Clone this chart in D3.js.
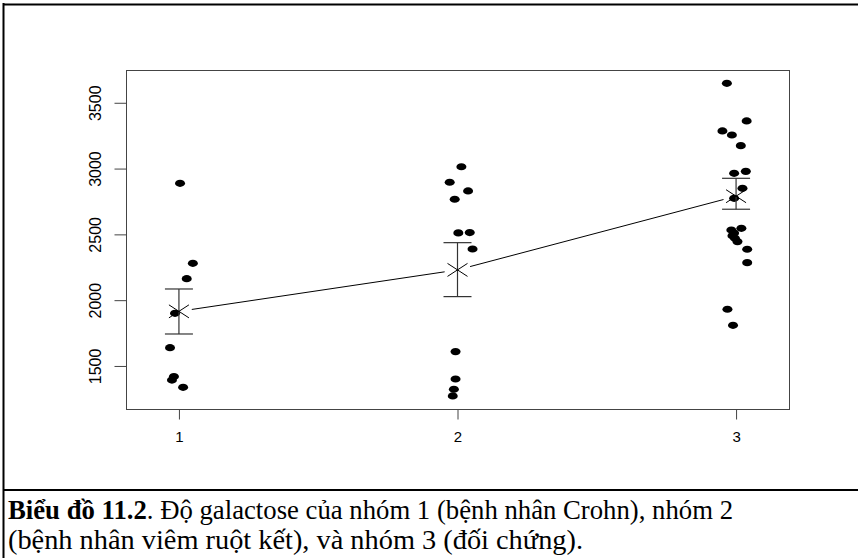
<!DOCTYPE html>
<html>
<head>
<meta charset="utf-8">
<script src="https://cdn.jsdelivr.net/npm/d3@7"></script>
<style>
  body { margin: 0; background: #fff; }
  svg { display: block; }
</style>
</head>
<body>
<div id="chart"></div>
<script>
// galactose values per group, with the horizontal jitter
var group1 = [2888, 2280, 2163, 1900, 1639, 1420, 1393, 1338];
var jitter1 = [0.004, 0.05, 0.028, -0.014, -0.032, -0.018, -0.025, 0.015];
var group2 = [3014, 2896, 2830, 2767, 2511, 2514, 2389, 1609, 1401, 1323, 1272];
var jitter2 = [0.014, -0.028, 0.038, -0.01, 0.003, 0.044, 0.054, -0.007, -0.007, -0.013, -0.017];
var group3 = [3648, 3362, 3286, 3255, 3174, 2964, 2979, 2850, 2774, 2546, 2533, 2510, 2490, 2470, 2445, 2387, 2285, 1931, 1809];
var jitter3 = [-0.033, 0.038, -0.049, -0.015, 0.017, -0.007, 0.035, 0.023, -0.007, 0.019, -0.017, -0.007, -0.013, -0.004, 0.005, 0.04, 0.04, -0.031, -0.011];

var groups = [1, 2, 3];
var means = [1915, 2230, 2790];
var lower = [1743, 2027, 2691];
var upper = [2085, 2437, 2926];

var yTicks = [1500, 2000, 2500, 3000, 3500];
var captionBold = "Biểu đồ 11.2";
var captionRest = ". Độ galactose của nhóm 1 (bệnh nhân Crohn), nhóm 2";
var captionLine2 = "(bệnh nhân viêm ruột kết), và nhóm 3 (đối chứng).";

var W = 858, H = 558;
var svg = d3.select("#chart").append("svg").attr("width", W).attr("height", H);

var x = d3.scaleLinear().domain([0.81, 3.19]).range([126, 789]);
var y = d3.scaleLinear().domain([1173, 3749]).range([409, 70]);

// outer frame of the figure
svg.append("line").attr("x1", 3.5).attr("x2", 3.5).attr("y1", 3).attr("y2", H)
	.attr("stroke", "#000").attr("stroke-width", 2);
svg.append("line").attr("x1", 3).attr("x2", W).attr("y1", 4.5).attr("y2", 4.5)
	.attr("stroke", "#000").attr("stroke-width", 2);
svg.append("line").attr("x1", 3).attr("x2", W).attr("y1", 490).attr("y2", 490)
	.attr("stroke", "#000").attr("stroke-width", 2);

// plot box
svg.append("rect")
	.attr("x", x.range()[0] + 0.5).attr("y", y.range()[1] + 0.5)
	.attr("width", x.range()[1] - x.range()[0]).attr("height", y.range()[0] - y.range()[1])
	.attr("fill", "none").attr("stroke", "#444").attr("stroke-width", 1);

// Left axis
var yAxis = svg.append("g")
	.attr("transform", "translate(" + (x.range()[0] + 0.5) + ",0)")
	.call(d3.axisLeft(y).tickValues(yTicks).tickSize(12).tickFormat(d3.format("d")));
yAxis.select(".domain").remove();
yAxis.selectAll(".tick line").attr("stroke", "#444");
yAxis.selectAll(".tick text")
	.attr("x", 0).attr("dy", null)
	.attr("transform", "translate(-26,0) rotate(-90)")
	.attr("text-anchor", "middle")
	.attr("font-family", "Liberation Sans, Arial, sans-serif")
	.attr("font-size", 16).attr("fill", "#000");

// Bottom axis
var xAxis = svg.append("g")
	.attr("transform", "translate(0," + (y.range()[0] + 0.5) + ")")
	.call(d3.axisBottom(x).tickValues(groups).tickSize(10).tickFormat(d3.format("d")));
xAxis.select(".domain").remove();
xAxis.selectAll(".tick line").attr("stroke", "#444");
xAxis.selectAll(".tick text")
	.attr("y", 22)
	.attr("font-family", "Liberation Sans, Arial, sans-serif")
	.attr("font-size", 15).attr("fill", "#000");

// jittered points
var pts = [];
[group1, group2, group3].forEach(function (vals, gi) {
	var jit = [jitter1, jitter2, jitter3][gi];
	vals.forEach(function (v, i) {
		pts.push({ g: groups[gi] + jit[i], v: v });
	});
});
svg.append("g").selectAll("ellipse")
	.data(pts)
	.enter().append("ellipse")
	.attr("cx", function (d) { return x(d.g); })
	.attr("cy", function (d) { return y(d.v); })
	.attr("rx", 5).attr("ry", 3.6)
	.attr("fill", "#000");

// error bars
var eb = svg.append("g").attr("stroke", "#333").attr("stroke-width", 1.2);
groups.forEach(function (g, i) {
	eb.append("line").attr("x1", x(g)).attr("x2", x(g)).attr("y1", y(lower[i])).attr("y2", y(upper[i]));
	eb.append("line").attr("x1", x(g) - 14).attr("x2", x(g) + 14).attr("y1", y(lower[i])).attr("y2", y(lower[i]));
	eb.append("line").attr("x1", x(g) - 14).attr("x2", x(g) + 14).attr("y1", y(upper[i])).attr("y2", y(upper[i]));
});

// mean markers (x) and connecting line with gaps
var mk = svg.append("g").attr("stroke", "#000").attr("stroke-width", 1);
groups.forEach(function (g, i) {
	var cx = x(g), cy = y(means[i]);
	mk.append("line").attr("x1", cx - 10).attr("y1", cy - 6.5).attr("x2", cx + 10).attr("y2", cy + 6.5);
	mk.append("line").attr("x1", cx - 10).attr("y1", cy + 6.5).attr("x2", cx + 10).attr("y2", cy - 6.5);
	if (i < groups.length - 1) {
		var x2 = x(groups[i + 1]), y2 = y(means[i + 1]);
		var dx = x2 - cx, dy = y2 - cy, len = Math.sqrt(dx * dx + dy * dy), gap = 13;
		mk.append("line")
			.attr("x1", cx + dx / len * gap).attr("y1", cy + dy / len * gap)
			.attr("x2", x2 - dx / len * gap).attr("y2", y2 - dy / len * gap);
	}
});

// caption
var cap = svg.append("g")
	.attr("font-family", "Liberation Serif, Times New Roman, serif")
	.attr("font-size", 28).attr("fill", "#000");
var t1 = cap.append("text").attr("x", 8).attr("y", 519)
	.attr("textLength", 725).attr("lengthAdjust", "spacingAndGlyphs");
t1.append("tspan").attr("font-weight", "bold").text(captionBold);
t1.append("tspan").text(captionRest);
cap.append("text").attr("x", 8).attr("y", 549)
	.attr("textLength", 575).attr("lengthAdjust", "spacingAndGlyphs")
	.text(captionLine2);
</script>
</body>
</html>
